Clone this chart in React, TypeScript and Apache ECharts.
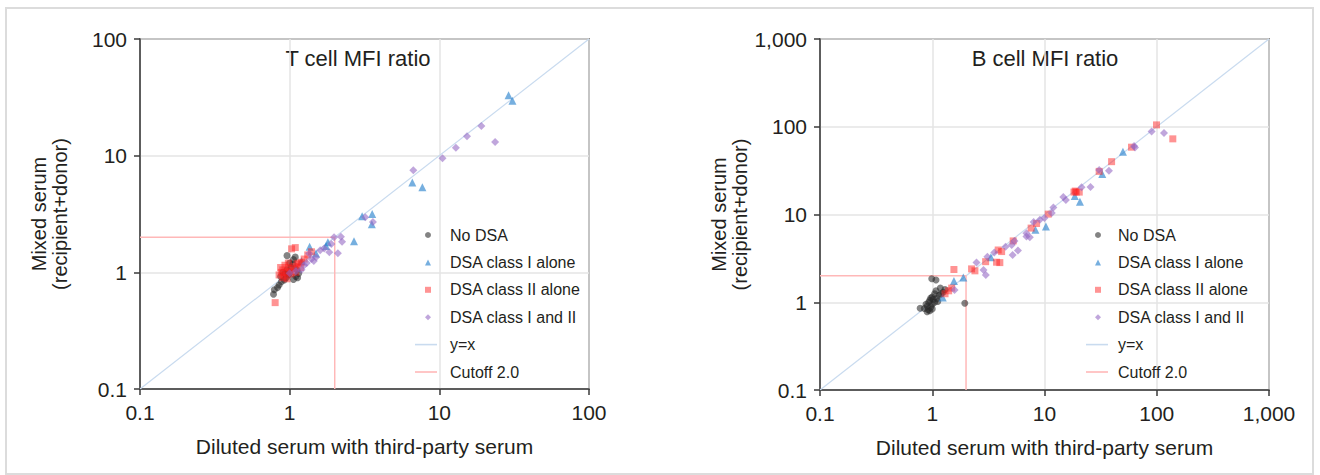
import React, { useEffect, useRef } from "react";
import * as echarts from "echarts";

// ---------- T cell MFI ratio (left panel) : [diluted, mixed] ----------
const tNoDSA: number[][] = [
  [0.78, 0.65], [0.79, 0.71], [0.85, 0.78], [0.88, 0.83], [0.92, 0.86], [0.95, 0.9],
  [0.98, 0.95], [1.06, 0.87], [1.1, 0.92], [0.9, 1.0], [0.96, 1.05], [1.02, 1.1],
  [1.05, 1.18], [0.96, 1.39], [1.06, 1.29], [1.09, 1.35], [0.87, 0.92], [1.0, 0.98],
  [1.12, 1.05], [0.93, 0.97], [1.15, 0.98], [1.0, 1.2], [0.83, 0.74], [1.13, 0.9],
];
const tClassI: number[][] = [
  [29, 33], [30.8, 29.5], [6.6, 5.9], [7.7, 5.35], [3.05, 3.03], [3.56, 3.16],
  [3.54, 2.58], [2.69, 1.85], [1.8, 1.81], [1.75, 1.68], [1.36, 1.66], [1.2, 1.25],
  [1.5, 1.45], [1.1, 1.1],
];
const tClassII: number[][] = [
  [0.8, 0.55], [1.03, 1.59], [1.09, 1.63], [0.85, 0.95], [0.88, 1.0], [0.9, 1.05],
  [0.92, 0.93], [0.95, 1.0], [0.97, 1.1], [1.0, 1.02], [1.02, 0.97], [1.05, 1.08],
  [0.9, 0.9], [0.93, 1.15], [1.08, 1.12], [1.12, 1.18], [1.15, 1.2], [1.2, 1.22],
  [1.25, 1.3], [1.32, 1.41], [1.4, 1.5], [0.87, 1.1], [0.98, 1.2], [1.1, 1.0],
  [0.96, 0.88], [1.18, 1.1],
];
const tClassIandII: number[][] = [
  [19.1, 18], [15.3, 14.7], [23.6, 13.1], [12.9, 11.7], [10.5, 9.5], [6.7, 7.5],
  [3.2, 2.96], [3.6, 2.7], [1.98, 2.0], [2.2, 2.02], [2.24, 1.83], [2.1, 1.46],
  [1.84, 1.49], [1.6, 1.55], [1.5, 1.35], [1.4, 1.3], [1.3, 1.2], [1.2, 1.05],
  [1.1, 1.02], [1.35, 1.45], [1.7, 1.6], [1.25, 1.15], [1.45, 1.25], [1.9, 1.75],
  [1.0, 0.98],
];

// ---------- B cell MFI ratio (right panel) ----------
const bNoDSA: number[][] = [
  [0.99, 1.85], [1.08, 1.79], [1.95, 0.975], [0.78, 0.855], [0.92, 0.82], [0.95, 0.8],
  [0.9, 0.9], [1.0, 0.95], [1.05, 1.0], [0.95, 1.05], [1.1, 1.1], [1.0, 1.15],
  [1.15, 1.2], [1.2, 1.25], [0.88, 0.95], [1.02, 1.08], [1.25, 1.3], [1.3, 1.4],
  [0.97, 0.88], [1.12, 1.02], [0.93, 1.0], [1.08, 1.35], [1.18, 1.45], [0.85, 0.85],
  [0.9, 0.78], [1.0, 0.84], [1.05, 1.25], [0.97, 1.12],
];
const bClassI: number[][] = [
  [50, 52], [32.7, 29], [18.6, 16.3], [20.7, 14], [10.3, 7.3], [8.3, 6.7],
  [3.33, 3.26], [1.89, 1.91], [1.56, 1.75], [1.24, 1.13],
];
const bClassII: number[][] = [
  [99.5, 105], [139, 72.8], [59.6, 58.5], [39.6, 40], [30.7, 31], [18.3, 18],
  [19.2, 18], [20.4, 18], [18.8, 18.5], [10.8, 10.1], [8.5, 7.9], [7.6, 7.0],
  [5.26, 5.0], [4.15, 3.78], [4.0, 2.83], [3.87, 3.94], [3.74, 2.86], [2.99, 2.9],
  [2.24, 2.4], [2.4, 2.28], [1.56, 2.36], [1.49, 1.45], [1.4, 1.35], [1.3, 1.25],
];
const bClassIandII: number[][] = [
  [90, 88], [116, 85], [62.8, 60.5], [64, 58], [30.7, 32.2], [37.5, 31.6],
  [21.4, 20.5], [25.7, 20.6], [14.7, 15.8], [15.5, 14.6], [11.6, 10.4], [10, 9.1],
  [9.1, 8.7], [6.9, 6.1], [6.9, 5.6], [7.4, 5.5], [5.4, 5.0], [5.1, 4.5],
  [5.8, 3.9], [5.2, 3.46], [2.48, 2.83], [2.86, 2.33], [3.0, 2.05], [3.57, 3.68],
  [3.1, 3.3], [1.58, 1.38], [4.5, 4.3], [12, 12], [8, 8.2],
];

const CUTOFF = 2.0;
const leftRange = [0.1, 100];
const rightRange = [0.1, 1000];

const FONT = "'Liberation Sans', Arial, Helvetica, sans-serif";
const TEXT = "#231f20";

const SERIES_STYLE = [
  { name: "No DSA", symbol: "circle", size: 7, color: "rgba(40,40,40,0.72)" },
  { name: "DSA class I alone", symbol: "triangle", size: 8, color: "rgba(40,130,205,0.8)" },
  { name: "DSA class II alone", symbol: "rect", size: 7, color: "rgba(255,30,30,0.6)" },
  { name: "DSA class I and II", symbol: "diamond", size: 8, color: "rgba(145,100,195,0.72)" },
];
const LINE_STYLE = [
  { name: "y=x", color: "#c9dbef", width: 1.2 },
  { name: "Cutoff 2.0", color: "#ffb8b8", width: 1.5 },
];

function fmt(v: number) {
  const r = +Number(v).toPrecision(3);
  return r >= 1000 ? r.toLocaleString("en-US") : String(r);
}

function axisCommon(range: number[], gridIndex: number) {
  return {
    type: "log",
    logBase: 10,
    gridIndex,
    min: range[0],
    max: range[1],
    axisLine: { show: true, lineStyle: { color: "#3a3a3a", width: 1.5 } },
    axisTick: { show: true, inside: false, length: 6, lineStyle: { color: "#3a3a3a", width: 1.5 } },
    splitLine: { show: true, lineStyle: { color: "#e4e4e4", width: 1.5 } },
    minorTick: { show: false },
    minorSplitLine: { show: false },
    axisLabel: {
      formatter: fmt,
      fontSize: 21,
      color: TEXT,
      fontFamily: FONT,
      margin: 13,
      showMinLabel: true,
      showMaxLabel: true,
    },
    nameTextStyle: { fontSize: 20, color: TEXT, fontFamily: FONT, lineHeight: 21 },
  };
}

export default function App() {
  const ref = useRef<HTMLDivElement>(null);

  useEffect(() => {
    document.body.style.margin = "0";
    if (!ref.current) return;
    const chart = echarts.init(ref.current, null, { renderer: "svg" });

    const panels = [
      { data: [tNoDSA, tClassI, tClassII, tClassIandII], range: leftRange },
      { data: [bNoDSA, bClassI, bClassII, bClassIandII], range: rightRange },
    ];

    const series: any[] = [];
    panels.forEach((p, gi) => {
      const lineData = [
        [[p.range[0], p.range[0]], [p.range[1], p.range[1]]],
        [[p.range[0], CUTOFF], [CUTOFF, CUTOFF], [CUTOFF, p.range[0]]],
      ];
      LINE_STYLE.forEach((l, k) => {
        series.push({
          name: l.name,
          type: "line",
          xAxisIndex: gi,
          yAxisIndex: gi,
          data: lineData[k],
          symbol: "none",
          showSymbol: false,
          lineStyle: { color: l.color, width: l.width },
          itemStyle: { color: l.color },
          z: 1,
          silent: true,
        });
      });
      SERIES_STYLE.forEach((s, k) => {
        series.push({
          name: s.name,
          type: "scatter",
          xAxisIndex: gi,
          yAxisIndex: gi,
          data: p.data[k],
          symbol: s.symbol,
          symbolSize: s.size,
          itemStyle: { color: s.color },
          z: 3 + k,
        });
      });
    });

    const ROW = 27.4;
    const LEG_TOP = 221;
    const textStyle = { fontSize: 16, color: TEXT, fontFamily: FONT, lineHeight: 18 };
    const makeLegends = (scatterLeft: number, scatterPad: number, lineLeft: number, linePad: number) => [
      {
        orient: "vertical",
        left: scatterLeft,
        top: LEG_TOP,
        itemWidth: 6,
        itemHeight: 6,
        itemGap: ROW - 18,
        selectedMode: false,
        data: SERIES_STYLE.map((s) => ({ name: s.name, icon: s.symbol })),
        textStyle: { ...textStyle, padding: [0, 0, 0, scatterPad] },
      },
      {
        orient: "vertical",
        left: lineLeft,
        top: LEG_TOP + 4 * ROW,
        itemWidth: 22,
        itemHeight: 1.6,
        itemGap: ROW - 18,
        selectedMode: false,
        data: LINE_STYLE.map((l) => ({ name: l.name, icon: "rect" })),
        textStyle: { ...textStyle, padding: [0, 0, 0, linePad] },
      },
    ];

    const option: any = {
      animation: false,
      backgroundColor: "#ffffff",
      graphic: [
        {
          type: "rect",
          shape: { x: 6, y: 8, width: 1307, height: 466 },
          style: { fill: "none", stroke: "#dcdcdc", lineWidth: 2 },
          silent: true,
        },
        {
          type: "text",
          x: 358,
          y: 58,
          style: { text: "T cell MFI ratio", fontSize: 22, fill: TEXT, fontFamily: FONT, textAlign: "center", textVerticalAlign: "middle" },
        },
        {
          type: "text",
          x: 1045,
          y: 58,
          style: { text: "B cell MFI ratio", fontSize: 22, fill: TEXT, fontFamily: FONT, textAlign: "center", textVerticalAlign: "middle" },
        },
      ],
      grid: [
        { left: 140, top: 39, width: 449, height: 350, show: true, borderColor: "#3a3a3a", borderWidth: 1.5, backgroundColor: "transparent" },
        { left: 820, top: 39, width: 449, height: 351, show: true, borderColor: "#3a3a3a", borderWidth: 1.5, backgroundColor: "transparent" },
      ],
      xAxis: [
        { ...axisCommon(leftRange, 0), name: "Diluted serum with third-party serum", nameLocation: "middle", nameGap: 47, nameTextStyle: { fontSize: 21, color: TEXT, fontFamily: FONT } },
        { ...axisCommon(rightRange, 1), name: "Diluted serum with third-party serum", nameLocation: "middle", nameGap: 47, nameTextStyle: { fontSize: 21, color: TEXT, fontFamily: FONT } },
      ],
      yAxis: [
        { ...axisCommon(leftRange, 0), name: "Mixed serum\n(recipient+donor)", nameLocation: "middle", nameGap: 70 },
        { ...axisCommon(rightRange, 1), name: "Mixed serum\n(recipient+donor)", nameLocation: "middle", nameGap: 64 },
      ],
      legend: [
        ...makeLegends(420, 14, 410, 8),
        ...makeLegends(1090, 12, 1081, 5),
      ],
      series,
    };

    chart.setOption(option);
    return () => chart.dispose();
  }, []);

  return <div ref={ref} style={{ width: 1320, height: 475 }} />;
}
